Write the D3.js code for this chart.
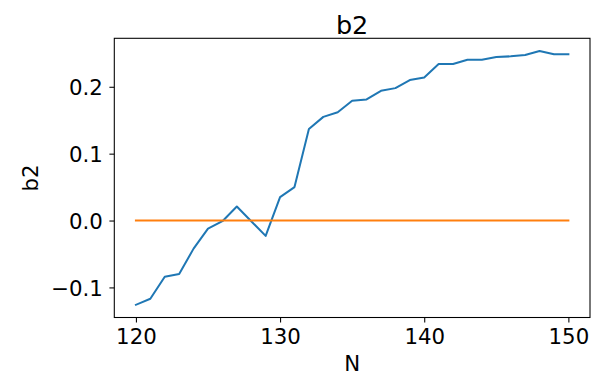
<!DOCTYPE html>
<html>
<head>
<meta charset="utf-8">
<script src="https://cdn.jsdelivr.net/npm/d3@7"></script>
<style>
  html, body { margin: 0; padding: 0; background: #fff; }
  svg { display: block; }
  text { font-family: "DejaVu Sans", sans-serif; fill: #000; }
</style>
</head>
<body>
<div id="chart"></div>
<script>
// Sample sizes N and the fitted b2 coefficient
const nValues = [120, 121, 122, 123, 124, 125, 126, 127, 128, 129,
                 130, 131, 132, 133, 134, 135, 136, 137, 138, 139,
                 140, 141, 142, 143, 144, 145, 146, 147, 148, 149, 150];
const b2Values = [-0.126, -0.117, -0.084, -0.080, -0.042, -0.012, -0.001, 0.021, -0.001, -0.023,
                  0.035, 0.050, 0.137, 0.155, 0.162, 0.179, 0.181, 0.194, 0.198, 0.210,
                  0.214, 0.234, 0.234, 0.2405, 0.2405, 0.2445, 0.2455, 0.2475, 0.2535, 0.2485, 0.2485];
// Reference level (true value of b2)
const refValues = nValues.map(() => 0);

const xTicks = [120, 130, 140, 150];
const yTicks = [-0.1, 0.0, 0.1, 0.2];

const width = 607, height = 378;
const margin = { left: 114.3, right: 17, top: 38.3, bottom: 60.5 };
const innerW = width - margin.left - margin.right;
const innerH = height - margin.top - margin.bottom;

const svg = d3.select("#chart").append("svg")
  .attr("width", width).attr("height", height);

// 5% padding around the data extent on both axes
const xExt = d3.extent(nValues);
const xPad = (xExt[1] - xExt[0]) * 0.05;
const allY = b2Values.concat(refValues);
const yExt = d3.extent(allY);
const yPad = (yExt[1] - yExt[0]) * 0.05;

const x = d3.scaleLinear().domain([xExt[0] - xPad, xExt[1] + xPad])
  .range([margin.left, margin.left + innerW]);
const y = d3.scaleLinear().domain([yExt[0] - yPad, yExt[1] + yPad])
  .range([margin.top + innerH, margin.top]);

const tickFont = 21.3;
const minus = s => s.replace("-", "\u2212");

// x axis
const xAxis = svg.append("g")
  .attr("transform", `translate(0,${margin.top + innerH})`)
  .call(d3.axisBottom(x).tickValues(xTicks).tickSize(4.9).tickPadding(4.7)
    .tickFormat(d3.format("d")));
xAxis.select(".domain").remove();
xAxis.selectAll("line").attr("stroke", "#000").attr("stroke-width", 1.07);
xAxis.selectAll("text").attr("font-size", tickFont)
  .attr("font-family", "DejaVu Sans").attr("dy", null).attr("y", 26.3);

// y axis
const yAxis = svg.append("g")
  .attr("transform", `translate(${margin.left},0)`)
  .call(d3.axisLeft(y).tickValues(yTicks).tickSize(4.9).tickPadding(6.5)
    .tickFormat(d => minus(d3.format(".1f")(d))));
yAxis.select(".domain").remove();
yAxis.selectAll("line").attr("stroke", "#000").attr("stroke-width", 1.07);
yAxis.selectAll("text").attr("font-size", tickFont)
  .attr("font-family", "DejaVu Sans").attr("dy", null).attr("y", 7.8);

// series
const line = d3.line().x((d, i) => x(nValues[i])).y(d => y(d));
const plot = svg.append("g");
plot.append("path").datum(b2Values)
  .attr("d", line).attr("fill", "none")
  .attr("stroke", "#1f77b4").attr("stroke-width", 2)
  .attr("stroke-linejoin", "round").attr("stroke-linecap", "square");
plot.append("path").datum(refValues)
  .attr("d", line).attr("fill", "none")
  .attr("stroke", "#ff7f0e").attr("stroke-width", 2)
  .attr("stroke-linecap", "square");

// frame
svg.append("rect")
  .attr("x", margin.left).attr("y", margin.top)
  .attr("width", innerW).attr("height", innerH)
  .attr("fill", "none").attr("stroke", "#000").attr("stroke-width", 1.07);

// title and axis labels
svg.append("text")
  .attr("x", margin.left + innerW / 2).attr("y", 33.5)
  .attr("text-anchor", "middle").attr("font-size", 25.5)
  .text("b2");
svg.append("text")
  .attr("x", margin.left + innerW / 2).attr("y", 371)
  .attr("text-anchor", "middle").attr("font-size", tickFont)
  .text("N");
svg.append("text")
  .attr("transform", `translate(37.5,${margin.top + innerH / 2}) rotate(-90)`)
  .attr("text-anchor", "middle").attr("font-size", tickFont)
  .text("b2");
</script>
</body>
</html>
